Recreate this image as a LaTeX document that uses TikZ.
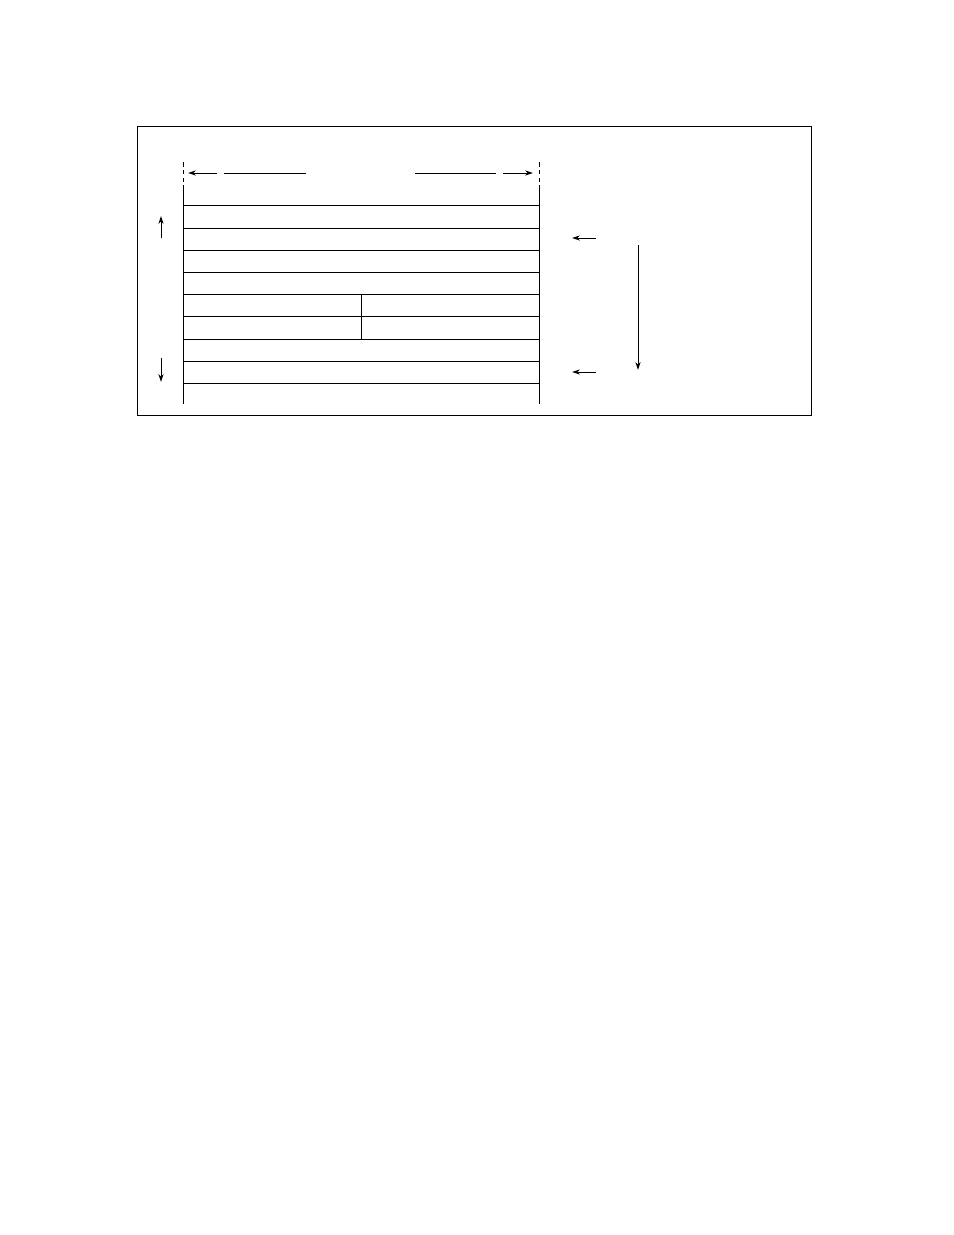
\documentclass[tikz,border=0pt]{standalone}
\usepackage{tikz}
\usetikzlibrary{arrows.meta}
\tikzset{myline/.style={line width=.6pt},
myarrow/.style={myline,-{Stealth[length=5pt,width=3.2pt,inset=1.5pt]}}}
\begin{document}
\begin{tikzpicture}[x=.6415pt,y=-.6415pt]
\useasboundingbox (0,0) rectangle (954,1235);
\draw[myline] (137,126) rectangle (811,415);
% the two sides of the stack
\draw[myline,dashed,dash pattern=on 3pt off 2pt] (183,162) -- (183,183);
\draw[myline,dashed,dash pattern=on 3pt off 2pt] (539,162) -- (539,183);
\draw[myline] (183,185) -- (183,404);
\draw[myline] (539,185) -- (539,404);
\foreach \y in {205,228,250,272,294,316,339,361,383}
\draw[myline] (183,\y) -- (539,\y);
\draw[myline] (361,294) -- (361,339);
% width
\coordinate (wl) at (188,173);
\coordinate (wr) at (533,173);
\draw[myarrow] (217,173) -- (wl);
\draw[myline] (224,173) -- (306,173);
\draw[myline] (415,173) -- (496,173);
\draw[myarrow] (503,173) -- (wr);
% growth
\draw[myarrow] (161,238) -- (161,216);
\draw[myarrow] (161,358) -- (161,382);
\draw[myarrow] (596,238) -- (572,238);
\draw[myarrow] (596,372) -- (572,372);
\draw[myarrow] (638,245) -- (638,370);
\end{tikzpicture}
\end{document}
